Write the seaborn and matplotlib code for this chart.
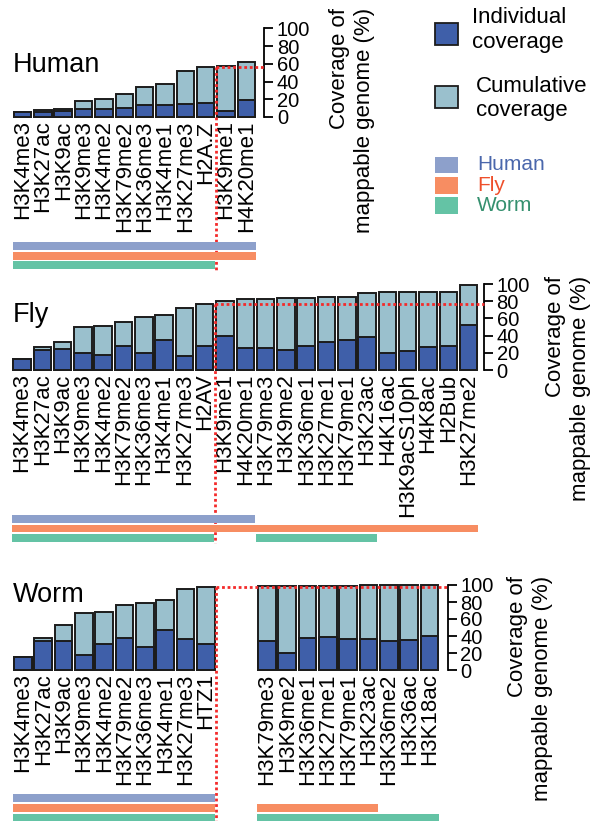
import matplotlib
matplotlib.use("Agg")
import matplotlib.pyplot as plt
from matplotlib.patches import Rectangle
import pandas as pd
import seaborn as sns

# ---------------- data ----------------
human_marks = ["H3K4me3", "H3K27ac", "H3K9ac", "H3K9me3", "H3K4me2", "H3K79me2",
               "H3K36me3", "H3K4me1", "H3K27me3", "H2A.Z", "H3K9me1", "H4K20me1"]
human_slots = list(range(12))
human_cumulative = [5.7, 7.9, 9.4, 18.1, 20.0, 25.7, 33.6, 37.4, 51.3, 56.6, 57.4, 61.9]
human_individual = [5.7, 5.7, 6.4, 8.7, 9.4, 10.6, 14.0, 14.0, 15.1, 15.8, 6.4, 18.9]

fly_marks = ["H3K4me3", "H3K27ac", "H3K9ac", "H3K9me3", "H3K4me2", "H3K79me2",
             "H3K36me3", "H3K4me1", "H3K27me3", "H2AV", "H3K9me1", "H4K20me1",
             "H3K79me3", "H3K9me2", "H3K36me1", "H3K27me1", "H3K79me1", "H3K23ac",
             "H4K16ac", "H3K9acS10ph", "H4K8ac", "H2Bub", "H3K27me2"]
fly_slots = list(range(23))
fly_cumulative = [12.8, 27.1, 32.6, 50.0, 50.8, 56.2, 61.2, 64.3, 71.7, 77.3, 80.6, 82.2,
                  82.2, 83.3, 83.3, 84.5, 84.5, 89.5, 90.3, 90.3, 90.7, 90.7, 99.2]
fly_individual = [12.8, 23.6, 24.4, 19.8, 17.8, 27.5, 19.4, 35.3, 16.3, 27.9, 39.5, 26.0,
                  25.6, 23.3, 28.3, 32.6, 34.5, 38.8, 19.4, 22.1, 26.4, 27.5, 52.7]

worm_marks = ["H3K4me3", "H3K27ac", "H3K9ac", "H3K9me3", "H3K4me2", "H3K79me2",
              "H3K36me3", "H3K4me1", "H3K27me3", "HTZ1",
              "H3K79me3", "H3K9me2", "H3K36me1", "H3K27me1", "H3K79me1", "H3K23ac",
              "H3K36me2", "H3K36ac", "H3K18ac"]
worm_slots = list(range(10)) + list(range(12, 21))
worm_cumulative = [15.2, 37.4, 52.5, 66.5, 68.1, 77.0, 79.0, 82.1, 95.3, 97.3,
                   99.0, 99.0, 99.1, 99.2, 99.4, 99.6, 99.5, 99.8, 100.0]
worm_individual = [15.2, 34.2, 34.2, 17.9, 31.1, 38.1, 26.8, 47.5, 36.2, 31.1,
                   34.5, 19.6, 37.3, 38.8, 36.5, 36.5, 34.1, 35.3, 39.6]

# marks profiled in each species, as (first slot, last slot) runs
human_panel_tracks = {"Human": [(0, 11)], "Fly": [(0, 11)], "Worm": [(0, 9)]}
fly_panel_tracks = {"Human": [(0, 11)], "Fly": [(0, 22)], "Worm": [(0, 9), (12, 17)]}
worm_panel_tracks = {"Human": [(0, 9)], "Fly": [(0, 9), (12, 17)], "Worm": [(0, 9), (12, 20)]}

species = ["Human", "Fly", "Worm"]
shared_marks = 10          # marks common to all three species
y_ticks = [0, 20, 40, 60, 80, 100]

# ---------------- style ----------------
DARK = "#3F5FA9"
LIGHT = "#9AC0CD"
EDGE = "#1C1C1C"
RED = "#F42A2A"
DOTS = (0, (1, 1))
track_colors = {"Human": "#8DA0CB", "Fly": "#F78D62", "Worm": "#64C3A5"}
text_colors = {"Human": "#4A67AC", "Fly": "#EE4F2B", "Worm": "#35906F"}

sns.set_theme(style="white")
plt.rcParams["font.family"] = ["Liberation Sans", "DejaVu Sans"]
plt.rcParams["text.color"] = "black"

W, H = 590, 821
fig = plt.figure(figsize=(W / 100, H / 100), dpi=100)


def px_axes(left, right, top, bottom):
    return fig.add_axes([left / W, 1 - bottom / H, (right - left) / W, (bottom - top) / H])


def panel(name, marks, slots, cum, ind, tracks, geom):
    c0, pitch, xmax, top, bottom, t_top, t_bottom, title_base = geom
    xmin = -0.6
    ax = px_axes(c0 + xmin * pitch, c0 + xmax * pitch, top, bottom)
    ax.patch.set_alpha(0)
    df = pd.DataFrame({"slot": slots, "cumulative": cum, "individual": ind})
    common = dict(data=df, x="slot", native_scale=True, width=0.86, saturation=1,
                  edgecolor=EDGE, linewidth=1.4, errorbar=None, ax=ax)
    sns.barplot(y="cumulative", color=LIGHT, **common)
    sns.barplot(y="individual", color=DARK, **common)
    for p in ax.patches:
        p.set_clip_on(False)

    ax.set_xlim(xmin, xmax)
    ax.set_ylim(0, 100)
    ax.set_xlabel("")
    ax.set_ylabel("")
    for s in ["left", "top", "bottom"]:
        ax.spines[s].set_visible(False)
    ax.spines["right"].set_visible(True)
    ax.spines["right"].set_color("black")
    ax.spines["right"].set_linewidth(1.3)
    ax.yaxis.tick_right()
    ax.set_yticks(y_ticks)
    ax.set_yticklabels([str(t) for t in y_ticks])
    ax.tick_params(axis="y", direction="out", length=6.5, width=1.3, color="black",
                   labelsize=14.5, labelcolor="black", pad=2.5, right=True, left=False)
    ax.set_xticks(slots)
    ax.set_xticklabels(marks, rotation=90, fontsize=16, color="black")
    ax.tick_params(axis="x", length=0, pad=2.5)

    fig.text(13 / W, 1 - title_base / H, name, fontsize=19.5, ha="left", va="baseline")

    # species tracks under the labels
    tax = px_axes(c0 + xmin * pitch, c0 + xmax * pitch, t_top, t_bottom)
    tax.set_xlim(xmin, xmax)
    tax.set_ylim(2.5, -0.5)
    tax.axis("off")
    for k, sp in enumerate(species):
        for a, b in tracks[sp]:
            tax.barh(k, (b - a) + 0.94, left=a - 0.47, height=0.84,
                     color=track_colors[sp], linewidth=0)

    # shared-mark boundary and its cumulative level
    level = cum[shared_marks - 1]
    xb = shared_marks - 0.5
    y_track_end = -(t_bottom - bottom) / (bottom - top) * 100
    ax.plot([xb, xmax], [level, level], color=RED, lw=2.0, ls=DOTS,
            dash_capstyle="butt", clip_on=False, zorder=10)
    ax.plot([xb, xb], [level, y_track_end], color=RED, lw=2.0, ls=DOTS,
            dash_capstyle="butt", clip_on=False, zorder=10)
    return ax


# geometry: first bar centre (px), px per slot, right spine slot, y100 px, y0 px,
#           track top px, track bottom px, title baseline px
panel("Human", human_marks, human_slots, human_cumulative, human_individual,
      human_panel_tracks, (22.5, 20.36, 11.88, 28.3, 117, 241.3, 269.8, 71.7))
panel("Fly", fly_marks, fly_slots, fly_cumulative, fly_individual,
      fly_panel_tracks, (22.0, 20.3, 22.76, 284, 370, 514.3, 542.7, 321.7))
panel("Worm", worm_marks, worm_slots, worm_cumulative, worm_individual,
      worm_panel_tracks, (22.9, 20.33, 20.89, 585, 670, 793, 823, 601.7))

# axis titles
ylab = "Coverage of\nmappable genome (%)"
for xc, yt in [(352, 8), (568, 276), (530, 576)]:
    fig.text(xc / W, 1 - yt / H, ylab, rotation=90, ha="center", va="top",
             multialignment="right", fontsize=16, linespacing=1.3)

# coverage legend
for (y0, y1), colr in [((23, 45), DARK), ((86, 108), LIGHT)]:
    fig.add_artist(Rectangle((435 / W, 1 - y1 / H), 23 / W, (y1 - y0) / H,
                             transform=fig.transFigure, facecolor=colr,
                             edgecolor=EDGE, linewidth=1.3))
fig.text(472 / W, 1 - 30 / H, "Individual\ncoverage", fontsize=16, ha="left",
         va="center", linespacing=1.2)
fig.text(476 / W, 1 - 98.5 / H, "Cumulative\ncoverage", fontsize=16, ha="left",
         va="center", linespacing=1.2)

# species legend
for sp, (y0, y1) in zip(species, [(157, 173), (177, 194), (197, 214)]):
    fig.add_artist(Rectangle((435 / W, 1 - y1 / H), 23 / W, (y1 - y0) / H,
                             transform=fig.transFigure, facecolor=track_colors[sp],
                             linewidth=0))
    fig.text(477 / W, 1 - (y0 + y1) / 2 / H, sp, fontsize=15, ha="left",
             va="center", color=text_colors[sp])

fig.savefig("out.png", dpi=100)
